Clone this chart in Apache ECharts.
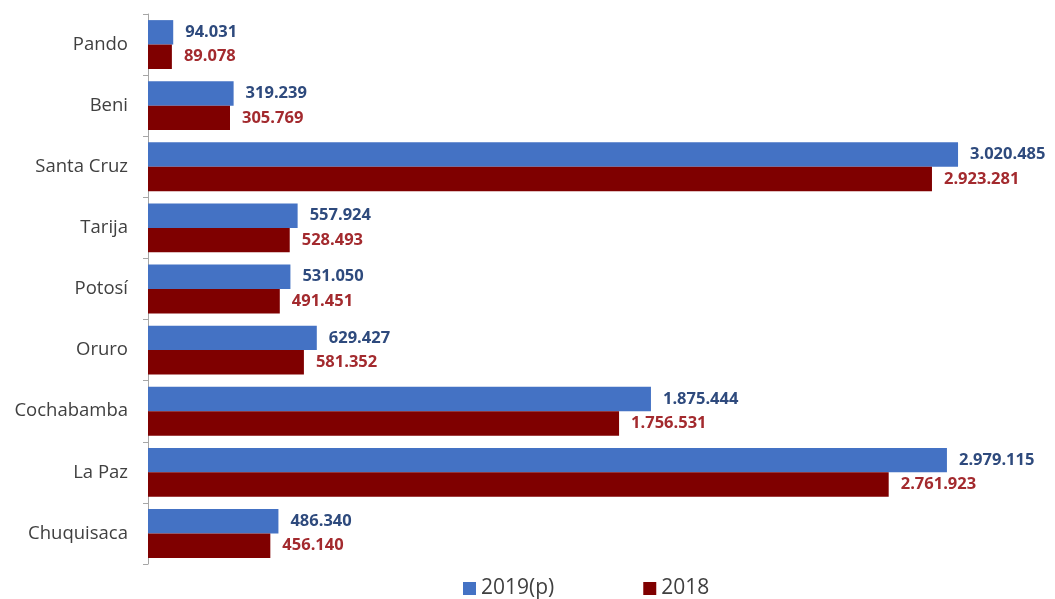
<!DOCTYPE html>
<html>
<head>
<meta charset="utf-8">
<script src="https://cdn.jsdelivr.net/npm/echarts@6/dist/echarts.min.js"></script>
<style>
  html, body { margin: 0; padding: 0; background: #ffffff; }
  #chart { width: 1055px; height: 599px; }
</style>
</head>
<body>
<div id="chart"></div>
<script>
// Departamentos, de arriba hacia abajo
const departamentos = ['Pando', 'Beni', 'Santa Cruz', 'Tarija', 'Potosí', 'Oruro', 'Cochabamba', 'La Paz', 'Chuquisaca'];
const valores2019 = [94031, 319239, 3020485, 557924, 531050, 629427, 1875444, 2979115, 486340];
const valores2018 = [89078, 305769, 2923281, 528493, 491451, 581352, 1756531, 2761923, 456140];
const nombresSeries = ['2019(p)', '2018'];

// Formato con punto como separador de miles
function miles(v) {
  return String(Math.round(v)).replace(/\B(?=(\d{3})+(?!\d))/g, '.');
}

const chart = echarts.init(document.getElementById('chart'));
const fuente = '"Open Sans", "DejaVu Sans", sans-serif';

chart.setOption({
  animation: false,
  backgroundColor: '#ffffff',
  grid: { left: 148, right: 22, top: 14, bottom: 35 },
  legend: {
    top: 573,
    left: 458,
    itemWidth: 13,
    itemHeight: 13,
    itemGap: 89,
    icon: 'rect',
    textStyle: { fontFamily: fuente, fontSize: 21, color: '#404040' },
    data: nombresSeries
  },
  xAxis: {
    type: 'value',
    min: 0,
    max: 3300000,
    show: false
  },
  yAxis: {
    type: 'category',
    data: departamentos,
    inverse: true,
    axisLine: { lineStyle: { color: '#a6a6a6', width: 1 } },
    axisTick: { show: true, length: 5, lineStyle: { color: '#a6a6a6' } },
    axisLabel: { fontFamily: fuente, fontSize: 18.5, color: '#404040', margin: 20 }
  },
  series: [
    {
      name: nombresSeries[0],
      type: 'bar',
      data: valores2019,
      barGap: '0%',
      barCategoryGap: '20%',
      itemStyle: { color: '#4472c4' },
      label: {
        show: true,
        position: 'right',
        distance: 12,
        fontFamily: fuente,
        fontSize: 16.5,
        fontWeight: 'bold',
        color: '#2e4a7d',
        formatter: p => miles(p.value)
      }
    },
    {
      name: nombresSeries[1],
      type: 'bar',
      data: valores2018,
      barGap: '0%',
      barCategoryGap: '20%',
      itemStyle: { color: '#7f0000' },
      label: {
        show: true,
        position: 'right',
        distance: 12,
        fontFamily: fuente,
        fontSize: 16.5,
        fontWeight: 'bold',
        color: '#a32a2e',
        formatter: p => miles(p.value)
      }
    }
  ]
});
</script>
</body>
</html>
